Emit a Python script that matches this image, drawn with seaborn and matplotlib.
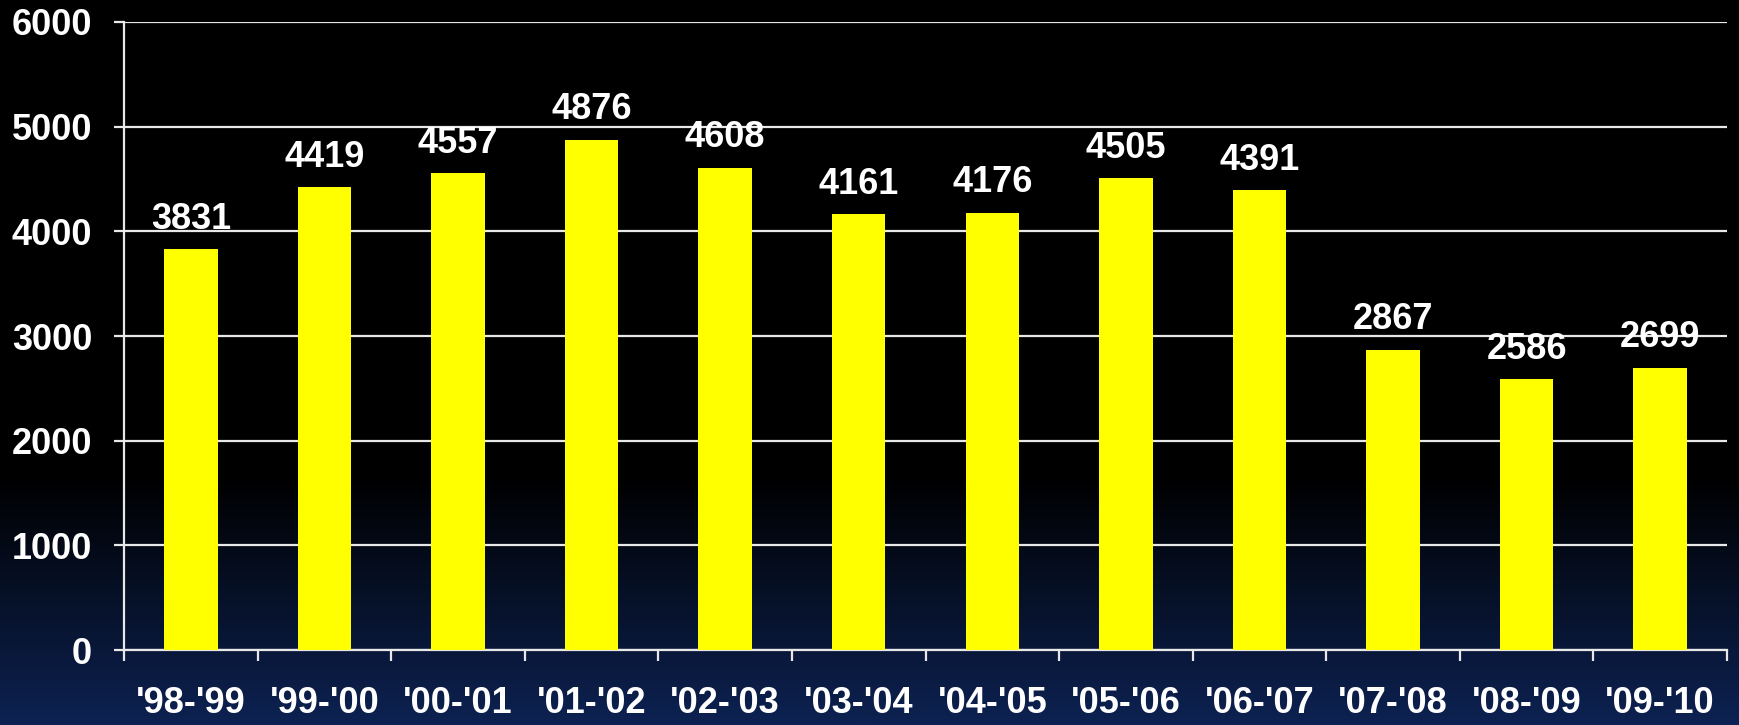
import numpy as np
import pandas as pd
import matplotlib
matplotlib.use("Agg")
import matplotlib.pyplot as plt
from matplotlib.colors import LinearSegmentedColormap
import seaborn as sns

seasons = ["'98-'99", "'99-'00", "'00-'01", "'01-'02", "'02-'03", "'03-'04",
           "'04-'05", "'05-'06", "'06-'07", "'07-'08", "'08-'09", "'09-'10"]
counts = [3831, 4419, 4557, 4876, 4608, 4161, 4176, 4505, 4391, 2867, 2586, 2699]
y_ticks = [0, 1000, 2000, 3000, 4000, 5000, 6000]

sns.set_theme(style="white")
plt.rcParams["font.family"] = ["Liberation Sans", "DejaVu Sans"]
plt.rcParams["font.weight"] = "bold"

FS = 26

fig = plt.figure(figsize=(17.4, 7.25), dpi=100)

# background: black fading to dark navy at the bottom
bg = fig.add_axes([0, 0, 1, 1], zorder=-10)
grad_cmap = LinearSegmentedColormap.from_list(
    "bg", [(0.0, "#000000"), (0.66, "#000000"), (1.0, "#0d2252")])
grad = np.linspace(0, 1, 512).reshape(-1, 1)
bg.imshow(grad, cmap=grad_cmap, aspect="auto", extent=[0, 1, 0, 1], origin="upper")
bg.set_axis_off()

ax = fig.add_axes([0.0713, 0.1034, 0.9212, 0.8663])
ax.set_facecolor("none")

df = pd.DataFrame({"season": seasons, "count": counts})
sns.barplot(data=df, x="season", y="count", color="#FFFF00", saturation=1,
            width=0.4, linewidth=0, ax=ax, zorder=3)

ax.set_ylim(0, 6000)
ax.set_xlim(-0.5, len(seasons) - 0.5)
ax.set_xlabel("")
ax.set_ylabel("")

# gridlines
ax.set_yticks(y_ticks)
ax.set_yticklabels([str(v) for v in y_ticks], fontsize=FS, fontweight="bold", color="white")
ax.yaxis.grid(True, color="#e8e8e8", linewidth=1.6, zorder=1)
ax.set_axisbelow(True)
ax.tick_params(axis="y", left=True, length=7, width=1.6, color="#e8e8e8", pad=16)

# category boundaries get tick marks, centres carry the labels
ax.set_xticks(np.arange(-0.5, len(seasons), 1.0))
ax.set_xticklabels([])
ax.set_xticks(np.arange(len(seasons)), minor=True)
ax.set_xticklabels(seasons, minor=True, fontsize=FS, fontweight="bold", color="white")
ax.tick_params(axis="x", which="major", bottom=True, length=8, width=1.6, color="#e8e8e8")
ax.tick_params(axis="x", which="minor", bottom=False, length=0, pad=26)

for side in ["top", "right"]:
    ax.spines[side].set_visible(False)
for side in ["left", "bottom"]:
    ax.spines[side].set_color("#e8e8e8")
    ax.spines[side].set_linewidth(1.6)

ax.bar_label(ax.containers[0], labels=[str(v) for v in counts], padding=9,
             fontsize=FS, fontweight="bold", color="white")

fig.savefig("out.png", dpi=100)
